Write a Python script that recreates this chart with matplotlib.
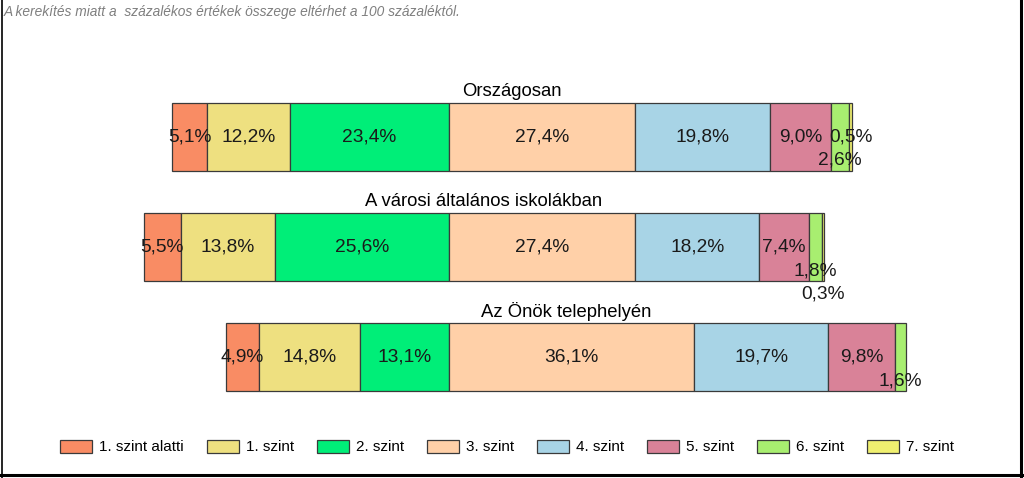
import matplotlib
matplotlib.use('Agg')
import matplotlib.pyplot as plt
from matplotlib.lines import Line2D
import numpy as np

plt.rcParams['font.family'] = ['Liberation Sans', 'DejaVu Sans']

# Data
groups = ['Országosan', 'A városi általános iskolákban', 'Az Önök telephelyén']
levels = ['1. szint alatti', '1. szint', '2. szint', '3. szint',
          '4. szint', '5. szint', '6. szint', '7. szint']
orszagos = [5.1, 12.2, 23.4, 27.4, 19.8, 9.0, 2.6, 0.5]
varosi = [5.5, 13.8, 25.6, 27.4, 18.2, 7.4, 1.8, 0.3]
telephely = [4.9, 14.8, 13.1, 36.1, 19.7, 9.8, 1.6, 0.0]

colors = ['#F98C64', '#EEE080', '#00EE78', '#FFD0A8',
          '#A8D4E6', '#D98298', '#A8EE70', '#F0F070']

# label nudges (in bar units, downward) for the thin segments
nudges = {(0, 6): 0.21, (1, 6): 0.22, (1, 7): 0.43, (2, 6): 0.22}

data = np.array([orszagos, varosi, telephely])

fig = plt.figure(figsize=(10.24, 4.78), dpi=100)
ax = fig.add_axes([100 / 1024, 1 - 410 / 478, 850 / 1024, 350 / 478])

bar_h = 0.61
for i, row in enumerate(data):
    # align the 2./3. szint boundary at zero
    start = -row[:3].sum()
    lefts = start + np.concatenate([[0], np.cumsum(row)[:-1]])
    for j, (w, l) in enumerate(zip(row, lefts)):
        if w <= 0:
            continue
        ax.barh(i, w, left=l, height=bar_h, color=colors[j],
                edgecolor='#3a3a3a', linewidth=0.9)
        lbl = f'{w:.1f}%'.replace('.', ',')
        ax.text(l + w / 2, i + nudges.get((i, j), 0), lbl,
                ha='center', va='center', fontsize=13.8, color='#1a1a1a')
    ax.text(start + row.sum() / 2, i - 0.418, groups[i],
            ha='center', va='center', fontsize=13.3, color='black')

ax.set_xlim((100 - 449) / 6.8, (950 - 449) / 6.8)
ax.set_ylim((410 - 137) / 110, (60 - 137) / 110)
ax.axis('off')

handles = [plt.Rectangle((0, 0), 1, 1, facecolor=c, edgecolor='#3a3a3a', linewidth=0.9)
           for c in colors]
fig.legend(handles, levels, loc='center', bbox_to_anchor=(507 / 1024, 1 - 447 / 478),
           ncol=8, frameon=False, fontsize=11, handlelength=2.1,
           handleheight=0.92, handletextpad=0.45, columnspacing=1.5)

fig.text(4 / 1024, 1 - 12 / 478,
         'A kerekítés miatt a  százalékos értékek összege eltérhet a 100 százaléktól.',
         fontsize=9.9, style='italic', color='#7f7f7f', ha='left', va='center')

# frame around the picture
fig.add_artist(Line2D([1.5 / 1024, 1.5 / 1024], [0, 1], color='black', lw=1.2))
fig.add_artist(Line2D([1021 / 1024, 1021 / 1024], [0, 1], color='black', lw=2.2))
fig.add_artist(Line2D([0, 1], [3 / 478, 3 / 478], color='black', lw=2.2))

fig.savefig('out.png', dpi=100, facecolor='white')
